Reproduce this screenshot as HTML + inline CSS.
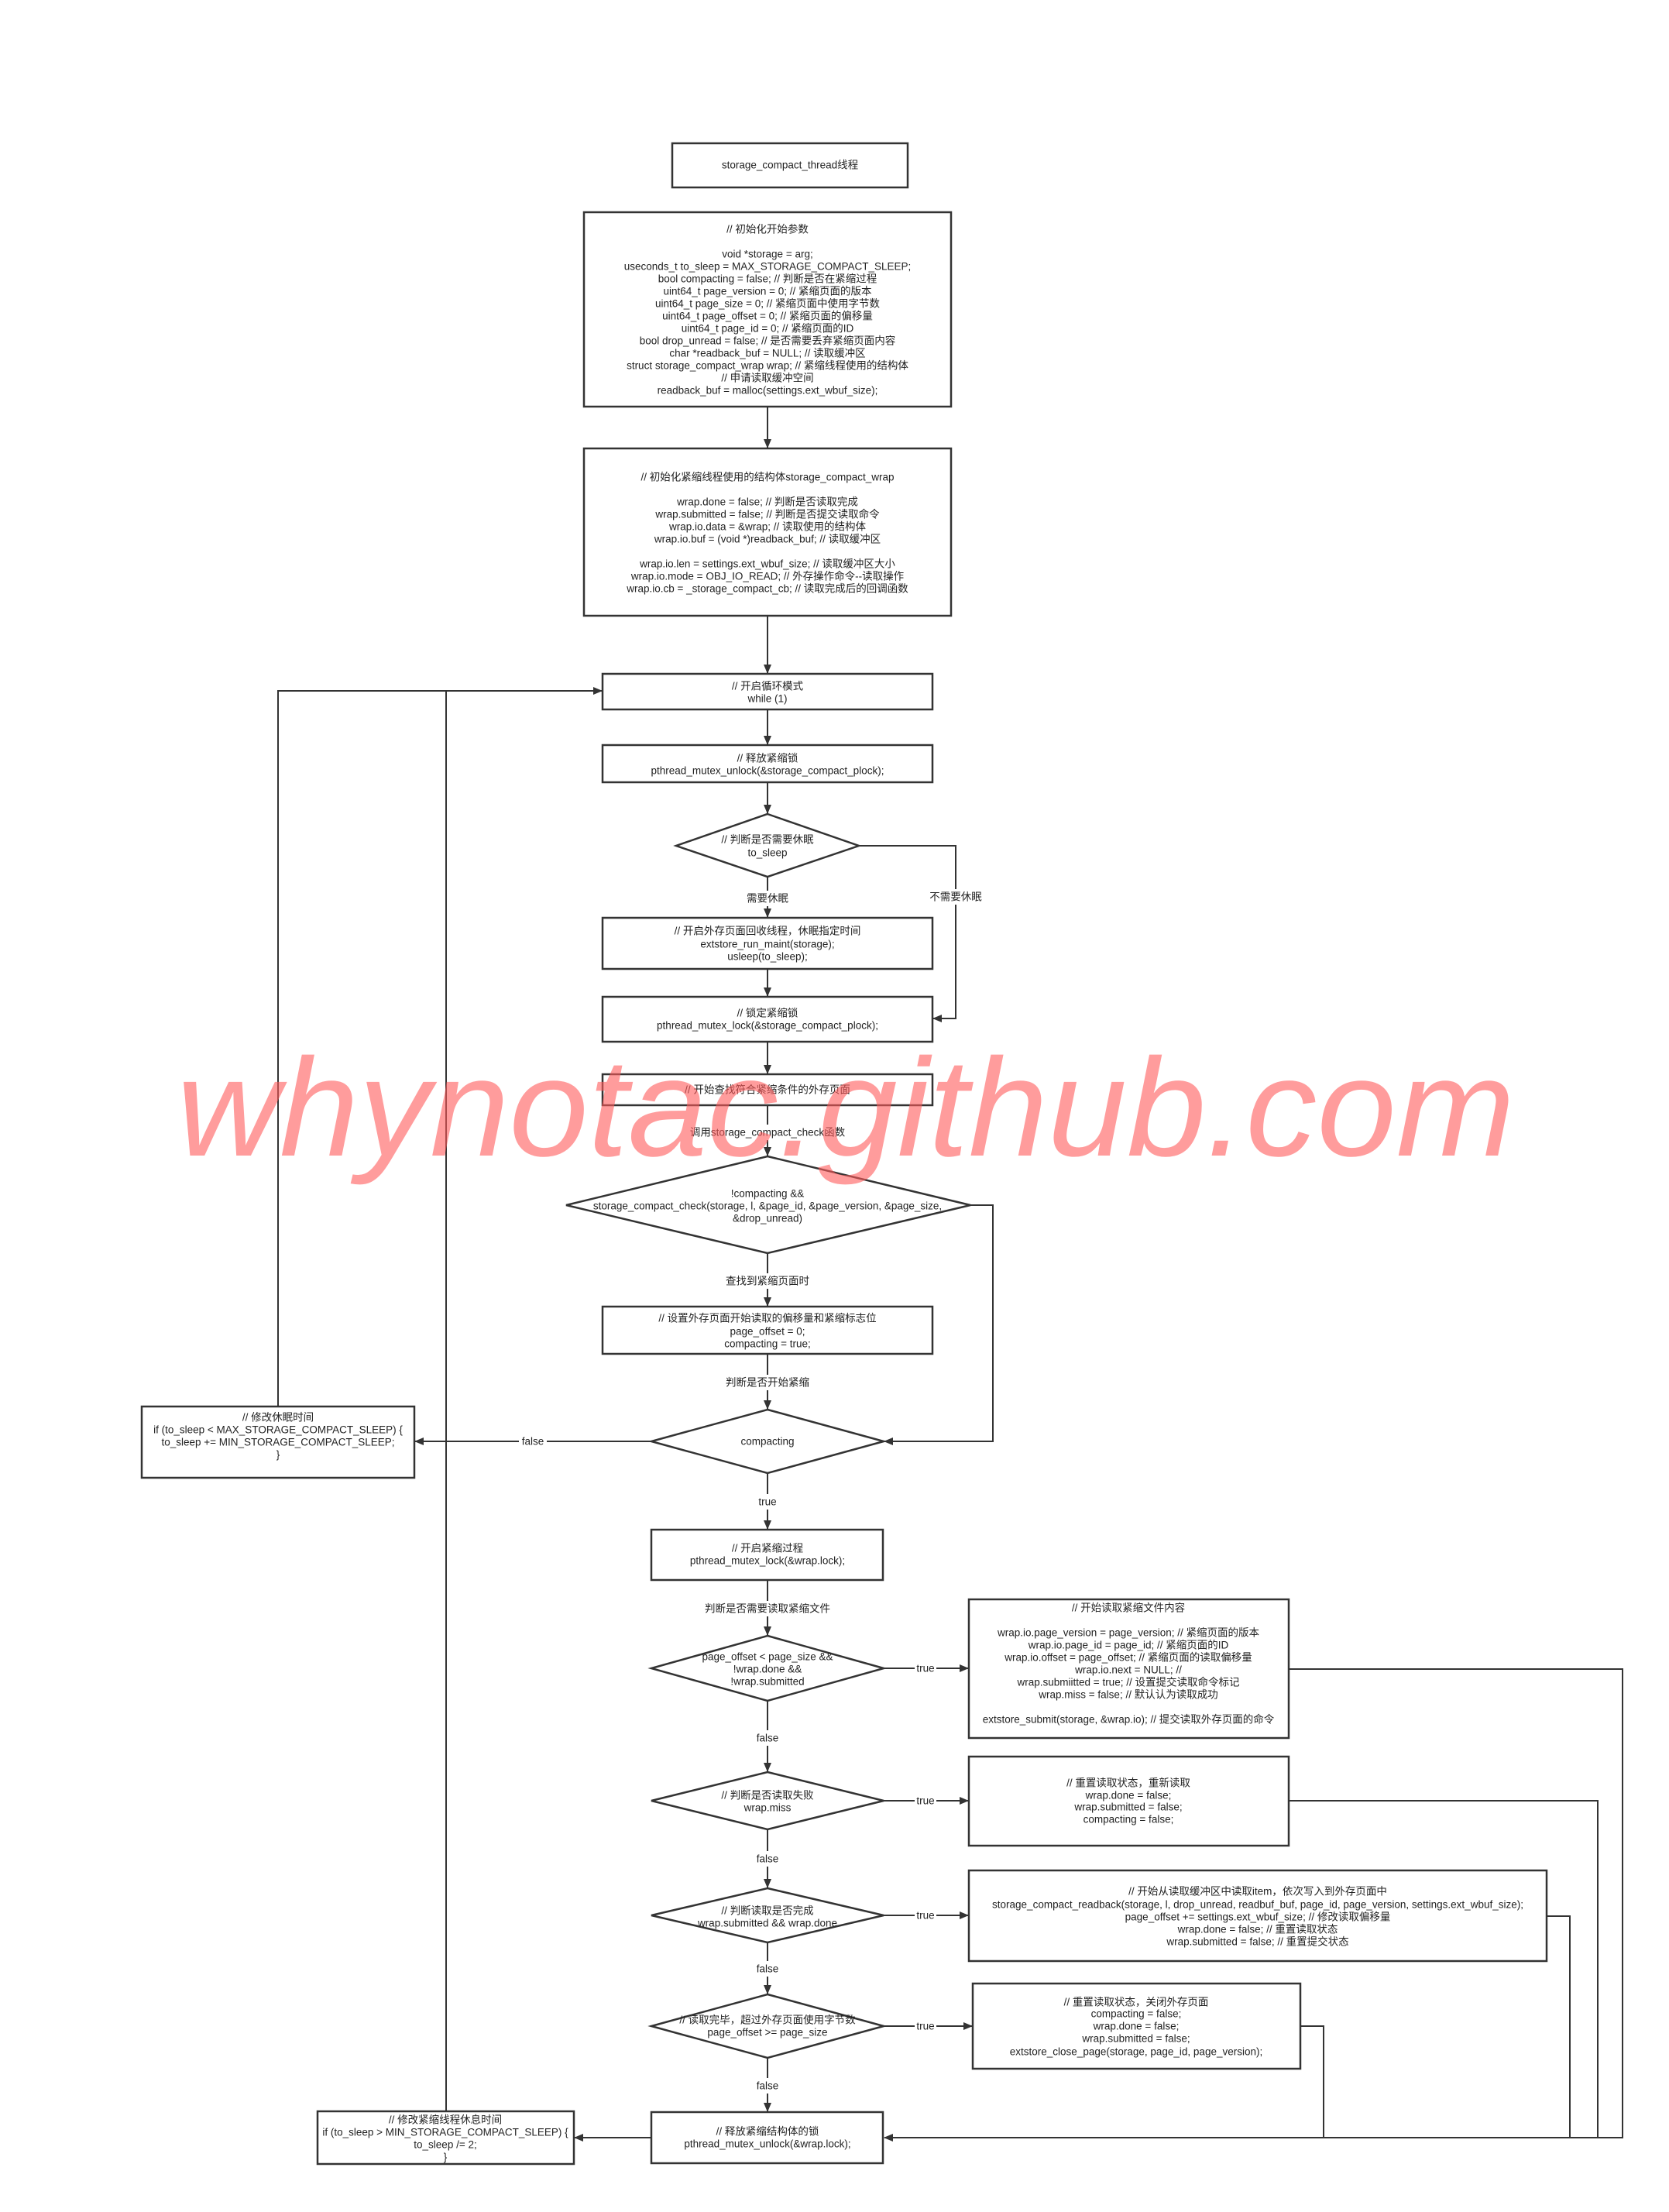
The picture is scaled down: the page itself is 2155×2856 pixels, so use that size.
<!DOCTYPE html>
<html><head><meta charset="utf-8"><style>
html,body{margin:0;padding:0;background:#fff;}
svg{display:block;}
text{font-family:"Liberation Sans","Noto Sans CJK SC",sans-serif;font-size:13.5px;fill:#222;text-anchor:middle;dominant-baseline:central;}
.s{fill:none;stroke:#333;stroke-width:2;}
.b{fill:#fff;stroke:#333;stroke-width:2.5;}
.l{fill:#fff;}
</style></head><body>
<svg width="2155" height="2856" viewBox="0 0 2155 2856" xmlns="http://www.w3.org/2000/svg">
<defs><marker id="a" markerWidth="12" markerHeight="10" refX="11" refY="5" orient="auto" markerUnits="userSpaceOnUse"><path d="M0,0 L12,5 L0,10 z" fill="#333"/></marker></defs>

<g class="s">
<line x1="991" y1="525" x2="991" y2="578" marker-end="url(#a)"/>
<line x1="991" y1="795" x2="991" y2="869" marker-end="url(#a)"/>
<line x1="991" y1="916" x2="991" y2="961" marker-end="url(#a)"/>
<line x1="991" y1="1010" x2="991" y2="1050" marker-end="url(#a)"/>
<line x1="991" y1="1132" x2="991" y2="1184" marker-end="url(#a)"/>
<line x1="991" y1="1251" x2="991" y2="1286" marker-end="url(#a)"/>
<polyline points="1109,1092 1234,1092 1234,1315 1205,1315" marker-end="url(#a)"/>
<line x1="991" y1="1345" x2="991" y2="1386" marker-end="url(#a)"/>
<line x1="991" y1="1427" x2="991" y2="1492" marker-end="url(#a)"/>
<line x1="991" y1="1618" x2="991" y2="1686" marker-end="url(#a)"/>
<polyline points="1253,1556 1282,1556 1282,1861 1142,1861" marker-end="url(#a)"/>
<line x1="991" y1="1748" x2="991" y2="1819" marker-end="url(#a)"/>
<line x1="841" y1="1861" x2="536" y2="1861" marker-end="url(#a)"/>
<polyline points="359,1816 359,892 777,892" marker-end="url(#a)"/>
<line x1="576" y1="2726" x2="576" y2="892"/>
<line x1="991" y1="1902" x2="991" y2="1974" marker-end="url(#a)"/>
<line x1="991" y1="2040" x2="991" y2="2111" marker-end="url(#a)"/>
<line x1="1141" y1="2154" x2="1250" y2="2154" marker-end="url(#a)"/>
<polyline points="1664,2155 2095,2155 2095,2760 1142,2760" marker-end="url(#a)"/>
<line x1="991" y1="2196" x2="991" y2="2287" marker-end="url(#a)"/>
<line x1="1141" y1="2325" x2="1250" y2="2325" marker-end="url(#a)"/>
<polyline points="1664,2325 2063,2325 2063,2760"/>
<line x1="991" y1="2362" x2="991" y2="2437" marker-end="url(#a)"/>
<line x1="1141" y1="2473" x2="1250" y2="2473" marker-end="url(#a)"/>
<polyline points="1997,2474 2027,2474 2027,2760"/>
<line x1="991" y1="2508" x2="991" y2="2574" marker-end="url(#a)"/>
<line x1="1141" y1="2616" x2="1255" y2="2616" marker-end="url(#a)"/>
<polyline points="1679,2616 1709,2616 1709,2760"/>
<line x1="991" y1="2657" x2="991" y2="2726" marker-end="url(#a)"/>
<line x1="841" y1="2760" x2="742" y2="2760" marker-end="url(#a)"/>
</g>

<rect class="b" x="868" y="185" width="304" height="57"/>
<text x="1020" y="213">storage_compact_thread线程</text>

<rect class="b" x="754" y="274" width="474" height="251"/>
<text x="991" y="296">// 初始化开始参数</text>
<text x="991" y="328">void *storage = arg;</text>
<text x="991" y="344">useconds_t to_sleep = MAX_STORAGE_COMPACT_SLEEP;</text>
<text x="991" y="360">bool compacting = false;  // 判断是否在紧缩过程</text>
<text x="991" y="376">uint64_t page_version = 0; // 紧缩页面的版本</text>
<text x="991" y="392">uint64_t page_size = 0; // 紧缩页面中使用字节数</text>
<text x="991" y="408">uint64_t page_offset = 0; // 紧缩页面的偏移量</text>
<text x="991" y="424">uint64_t page_id = 0; // 紧缩页面的ID</text>
<text x="991" y="440">bool drop_unread = false;  // 是否需要丢弃紧缩页面内容</text>
<text x="991" y="456">char *readback_buf = NULL;  // 读取缓冲区</text>
<text x="991" y="472">struct storage_compact_wrap wrap;  // 紧缩线程使用的结构体</text>
<text x="991" y="488">// 申请读取缓冲空间</text>
<text x="991" y="504">readback_buf = malloc(settings.ext_wbuf_size);</text>

<rect class="b" x="754" y="579" width="474" height="216"/>
<text x="991" y="616">// 初始化紧缩线程使用的结构体storage_compact_wrap</text>
<text x="991" y="648">wrap.done = false;   // 判断是否读取完成</text>
<text x="991" y="664">wrap.submitted = false;  // 判断是否提交读取命令</text>
<text x="991" y="680">wrap.io.data = &amp;wrap;  // 读取使用的结构体</text>
<text x="991" y="696">wrap.io.buf = (void *)readback_buf; // 读取缓冲区</text>
<text x="991" y="728">wrap.io.len = settings.ext_wbuf_size; // 读取缓冲区大小</text>
<text x="991" y="744">wrap.io.mode = OBJ_IO_READ;  // 外存操作命令--读取操作</text>
<text x="991" y="760">wrap.io.cb = _storage_compact_cb; // 读取完成后的回调函数</text>

<rect class="b" x="778" y="870" width="426" height="46"/>
<text x="991" y="886">// 开启循环模式</text>
<text x="991" y="902">while (1)</text>

<rect class="b" x="778" y="962" width="426" height="48"/>
<text x="991" y="979">// 释放紧缩锁</text>
<text x="991" y="995">pthread_mutex_unlock(&amp;storage_compact_plock);</text>

<polygon class="b" points="991,1051 1109,1092 991,1132 873,1092"/>
<text x="991" y="1084">// 判断是否需要休眠</text>
<text x="991" y="1101">to_sleep</text>

<rect class="l" x="950" y="1150" width="82" height="20"/>
<text x="991" y="1160">需要休眠</text>
<rect class="l" x="1198" y="1148" width="72" height="20"/>
<text x="1234" y="1158">不需要休眠</text>

<rect class="b" x="778" y="1185" width="426" height="66"/>
<text x="991" y="1202">// 开启外存页面回收线程，休眠指定时间</text>
<text x="991" y="1219">extstore_run_maint(storage);</text>
<text x="991" y="1235">usleep(to_sleep);</text>

<rect class="b" x="778" y="1287" width="426" height="58"/>
<text x="991" y="1308">// 锁定紧缩锁</text>
<text x="991" y="1324">pthread_mutex_lock(&amp;storage_compact_plock);</text>

<rect class="b" x="778" y="1387" width="426" height="40"/>
<text x="991" y="1407">// 开始查找符合紧缩条件的外存页面</text>

<rect class="l" x="885" y="1452" width="212" height="20"/>
<text x="991" y="1462">调用storage_compact_check函数</text>

<polygon class="b" points="991,1493 1253,1556 991,1618 731,1556"/>
<text x="991" y="1541">!compacting &amp;&amp;</text>
<text x="991" y="1557">storage_compact_check(storage, l, &amp;page_id, &amp;page_version, &amp;page_size,</text>
<text x="991" y="1573">&amp;drop_unread)</text>

<rect class="l" x="935" y="1644" width="112" height="20"/>
<text x="991" y="1654">查找到紧缩页面时</text>

<rect class="b" x="778" y="1687" width="426" height="61"/>
<text x="991" y="1702">// 设置外存页面开始读取的偏移量和紧缩标志位</text>
<text x="991" y="1719">page_offset = 0;</text>
<text x="991" y="1735">compacting = true;</text>

<rect class="l" x="935" y="1775" width="112" height="20"/>
<text x="991" y="1785">判断是否开始紧缩</text>

<polygon class="b" points="991,1820 1141,1861 991,1902 841,1861"/>
<text x="991" y="1861">compacting</text>

<rect class="l" x="670" y="1851" width="36" height="20"/>
<text x="688" y="1861">false</text>

<rect class="b" x="183" y="1816" width="352" height="92"/>
<text x="359" y="1830">// 修改休眠时间</text>
<text x="359" y="1846">if (to_sleep &lt; MAX_STORAGE_COMPACT_SLEEP) {</text>
<text x="359" y="1862">to_sleep += MIN_STORAGE_COMPACT_SLEEP;</text>
<text x="359" y="1878">}</text>

<rect class="l" x="975" y="1929" width="32" height="20"/>
<text x="991" y="1939">true</text>

<rect class="b" x="841" y="1975" width="299" height="65"/>
<text x="991" y="1999">// 开启紧缩过程</text>
<text x="991" y="2015">pthread_mutex_lock(&amp;wrap.lock);</text>

<rect class="l" x="910" y="2067" width="162" height="20"/>
<text x="991" y="2077">判断是否需要读取紧缩文件</text>

<polygon class="b" points="991,2112 1141,2154 991,2196 841,2154"/>
<text x="991" y="2139">page_offset &lt; page_size &amp;&amp;</text>
<text x="991" y="2155">!wrap.done &amp;&amp;</text>
<text x="991" y="2171">!wrap.submitted</text>
<rect class="l" x="1181" y="2145" width="28" height="18"/>
<text x="1195" y="2154">true</text>

<rect class="b" x="1251" y="2065" width="413" height="179"/>
<text x="1457" y="2076">// 开始读取紧缩文件内容</text>
<text x="1457" y="2108">wrap.io.page_version = page_version; // 紧缩页面的版本</text>
<text x="1457" y="2124">wrap.io.page_id = page_id; // 紧缩页面的ID</text>
<text x="1457" y="2140">wrap.io.offset = page_offset; // 紧缩页面的读取偏移量</text>
<text x="1457" y="2156">wrap.io.next = NULL; //</text>
<text x="1457" y="2172">wrap.submiitted = true; // 设置提交读取命令标记</text>
<text x="1457" y="2188">wrap.miss = false; // 默认认为读取成功</text>
<text x="1457" y="2220">extstore_submit(storage, &amp;wrap.io); // 提交读取外存页面的命令</text>

<rect class="l" x="973" y="2234" width="36" height="20"/>
<text x="991" y="2244">false</text>

<polygon class="b" points="991,2288 1141,2325 991,2362 841,2325"/>
<text x="991" y="2318">// 判断是否读取失败</text>
<text x="991" y="2334">wrap.miss</text>
<rect class="l" x="1181" y="2316" width="28" height="18"/>
<text x="1195" y="2325">true</text>

<rect class="b" x="1251" y="2268" width="413" height="115"/>
<text x="1457" y="2302">// 重置读取状态，重新读取</text>
<text x="1457" y="2318">wrap.done = false;</text>
<text x="1457" y="2333">wrap.submitted = false;</text>
<text x="1457" y="2349">compacting = false;</text>

<rect class="l" x="973" y="2390" width="36" height="20"/>
<text x="991" y="2400">false</text>

<polygon class="b" points="991,2438 1141,2473 991,2508 841,2473"/>
<text x="991" y="2467">// 判断读取是否完成</text>
<text x="991" y="2483">wrap.submitted &amp;&amp; wrap.done</text>
<rect class="l" x="1181" y="2464" width="28" height="18"/>
<text x="1195" y="2473">true</text>

<rect class="b" x="1251" y="2415" width="746" height="117"/>
<text x="1624" y="2442">// 开始从读取缓冲区中读取item，依次写入到外存页面中</text>
<text x="1624" y="2459">storage_compact_readback(storage, l, drop_unread, readbuf_buf, page_id, page_version, settings.ext_wbuf_size);</text>
<text x="1624" y="2475">page_offset += settings.ext_wbuf_size;  // 修改读取偏移量</text>
<text x="1624" y="2491">wrap.done = false;  // 重置读取状态</text>
<text x="1624" y="2507">wrap.submitted = false; // 重置提交状态</text>

<rect class="l" x="973" y="2532" width="36" height="20"/>
<text x="991" y="2542">false</text>

<polygon class="b" points="991,2575 1141,2616 991,2657 841,2616"/>
<text x="991" y="2608">// 读取完毕，超过外存页面使用字节数</text>
<text x="991" y="2624">page_offset &gt;= page_size</text>
<rect class="l" x="1181" y="2607" width="28" height="18"/>
<text x="1195" y="2616">true</text>

<rect class="b" x="1256" y="2561" width="423" height="110"/>
<text x="1467" y="2585">// 重置读取状态，关闭外存页面</text>
<text x="1467" y="2600">compacting = false;</text>
<text x="1467" y="2616">wrap.done = false;</text>
<text x="1467" y="2632">wrap.submitted = false;</text>
<text x="1467" y="2649">extstore_close_page(storage, page_id, page_version);</text>

<rect class="l" x="973" y="2683" width="36" height="20"/>
<text x="991" y="2693">false</text>

<rect class="b" x="841" y="2727" width="299" height="66"/>
<text x="991" y="2752">// 释放紧缩结构体的锁</text>
<text x="991" y="2768">pthread_mutex_unlock(&amp;wrap.lock);</text>

<rect class="b" x="410" y="2726" width="331" height="68"/>
<text x="575" y="2737">// 修改紧缩线程休息时间</text>
<text x="575" y="2753">if (to_sleep &gt; MIN_STORAGE_COMPACT_SLEEP) {</text>
<text x="575" y="2769">to_sleep /= 2;</text>
<text x="575" y="2785">}</text>

<text x="228" y="1492" textLength="1728" lengthAdjust="spacingAndGlyphs" style="font-size:180px;font-style:italic;fill:#ff5a5a;fill-opacity:0.6;text-anchor:start;dominant-baseline:alphabetic;">whynotac.github.com</text>
</svg>
</body></html>
